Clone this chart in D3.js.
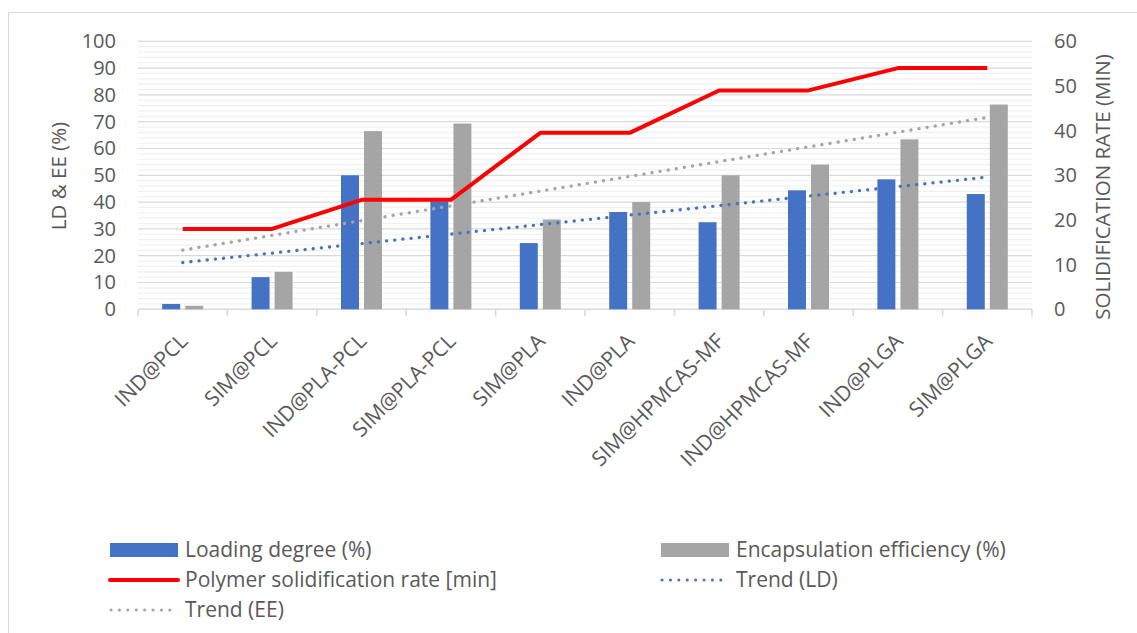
<!DOCTYPE html>
<html>
<head>
<meta charset="utf-8">
<script src="https://cdn.jsdelivr.net/npm/d3@7"></script>
<style>
  html, body { margin: 0; padding: 0; background: #fff; }
  svg { display: block; font-family: "Open Sans", sans-serif; }
  text { fill: #595959; }
</style>
</head>
<body>
<svg id="chart" width="1137" height="633"></svg>
<script>
// Formulations on the category axis
const categories = ["IND@PCL", "SIM@PCL", "IND@PLA-PCL", "SIM@PLA-PCL", "SIM@PLA",
  "IND@PLA", "SIM@HPMCAS-MF", "IND@HPMCAS-MF", "IND@PLGA", "SIM@PLGA"];
// Loading degree (%) – left axis
const loadingDegree = [2, 12, 50, 40.3, 24.7, 36.3, 32.5, 44.4, 48.5, 43];
// Encapsulation efficiency (%) – left axis
const encapsulation = [1.3, 14, 66.5, 69.3, 33.5, 40, 50, 54, 63.4, 76.4];
// Polymer solidification rate [min] – right axis
const solidification = [18, 18, 24.5, 24.5, 39.5, 39.5, 49, 49, 54, 54];
// Axis ticks
const leftTicks = [0, 10, 20, 30, 40, 50, 60, 70, 80, 90, 100];
const rightTicks = [0, 10, 20, 30, 40, 50, 60];
// Legend labels
const legendLabels = ["Loading degree (%)", "Encapsulation efficiency (%)",
  "Polymer solidification rate [min]", "Trend (LD)", "Trend (EE)"];

const BLUE = "#4472C4", GRAY = "#A5A5A5", RED = "#FF0000";

const svg = d3.select("#chart");
const plot = { left: 138, right: 1032, top: 41.3, bottom: 309.3 };

// Outer chart frame
svg.append("rect")
  .attr("x", 8.5).attr("y", 12.5)
  .attr("width", 1140).attr("height", 640)
  .attr("fill", "none").attr("stroke", "#d9d9d9");

const x = d3.scaleBand().domain(categories).range([plot.left, plot.right]);
const xSub = d3.scaleBand().domain(["ld", "ee"]).range([0, 41]).paddingInner(0.22);
const yL = d3.scaleLinear().domain([0, 100]).range([plot.bottom, plot.top]);
const yR = d3.scaleLinear().domain([0, 60]).range([plot.bottom, plot.top]);
const cx = c => x(c) + x.bandwidth() / 2;

// Minor gridlines (every 2) and major gridlines (every 10)
const grid = svg.append("g");
grid.selectAll("line.minor")
  .data(d3.range(0, 101, 2).filter(v => v % 10 !== 0))
  .join("line")
  .attr("x1", plot.left).attr("x2", plot.right)
  .attr("y1", d => yL(d)).attr("y2", d => yL(d))
  .attr("stroke", "#f0f0f0").attr("stroke-width", 1.2);
grid.selectAll("line.major")
  .data(leftTicks.filter(v => v > 0))
  .join("line")
  .attr("x1", plot.left).attr("x2", plot.right)
  .attr("y1", d => yL(d)).attr("y2", d => yL(d))
  .attr("stroke", "#d9d9d9").attr("stroke-width", 1.2);

// Category axis line with tick marks at category boundaries
const xAxisG = svg.append("g").attr("transform", `translate(0,${plot.bottom})`);
xAxisG.append("line")
  .attr("x1", plot.left).attr("x2", plot.right)
  .attr("stroke", "#d9d9d9").attr("stroke-width", 1.5);
xAxisG.selectAll("line.tick")
  .data(categories.concat([null]))
  .join("line")
  .attr("x1", (d, i) => plot.left + i * x.step())
  .attr("x2", (d, i) => plot.left + i * x.step())
  .attr("y1", 0).attr("y2", 7)
  .attr("stroke", "#d9d9d9").attr("stroke-width", 1.5);

// Rotated category labels
svg.append("g").selectAll("text")
  .data(categories)
  .join("text")
  .attr("transform", d => `translate(${cx(d) + 1},${plot.bottom + 28}) rotate(-45)`)
  .attr("text-anchor", "end")
  .attr("dy", "0.35em")
  .style("font-size", "21px")
  .text(d => d);

// Bars
const bars = svg.append("g");
bars.selectAll("rect.ld")
  .data(categories)
  .join("rect")
  .attr("x", d => cx(d) - 20.5 + xSub("ld"))
  .attr("width", xSub.bandwidth())
  .attr("y", (d, i) => yL(loadingDegree[i]))
  .attr("height", (d, i) => yL(0) - yL(loadingDegree[i]))
  .attr("fill", BLUE);
bars.selectAll("rect.ee")
  .data(categories)
  .join("rect")
  .attr("x", d => cx(d) - 20.5 + xSub("ee"))
  .attr("width", xSub.bandwidth())
  .attr("y", (d, i) => yL(encapsulation[i]))
  .attr("height", (d, i) => yL(0) - yL(encapsulation[i]))
  .attr("fill", GRAY);

// Least-squares linear trend through a series (x = category index)
function linearFit(values) {
  const n = values.length;
  const xs = d3.range(n);
  const mx = d3.mean(xs), my = d3.mean(values);
  const sxy = d3.sum(xs, (xi, i) => (xi - mx) * (values[i] - my));
  const sxx = d3.sum(xs, xi => (xi - mx) * (xi - mx));
  const slope = sxy / sxx;
  const intercept = my - slope * mx;
  return [0, n - 1].map(i => [i, intercept + slope * i]);
}
const idxX = i => cx(categories[i]);
const trendLine = d3.line().x(d => idxX(d[0])).y(d => yL(d[1]));

svg.append("path")
  .attr("d", trendLine(linearFit(encapsulation)))
  .attr("fill", "none").attr("stroke", GRAY)
  .attr("stroke-width", 3.3).attr("stroke-linecap", "round")
  .attr("stroke-dasharray", "0.1 8.1");
svg.append("path")
  .attr("d", trendLine(linearFit(loadingDegree)))
  .attr("fill", "none").attr("stroke", BLUE)
  .attr("stroke-width", 3.3).attr("stroke-linecap", "round")
  .attr("stroke-dasharray", "0.1 8.1");

// Solidification rate line on the right axis
const rateLine = d3.line().x((d, i) => idxX(i)).y(d => yR(d));
svg.append("path")
  .attr("d", rateLine(solidification))
  .attr("fill", "none").attr("stroke", RED)
  .attr("stroke-width", 4).attr("stroke-linejoin", "round");

// Left axis
const leftAxis = svg.append("g")
  .attr("transform", `translate(116,0)`)
  .call(d3.axisLeft(yL).tickValues(leftTicks).tickSize(0).tickPadding(0));
leftAxis.select(".domain").remove();
leftAxis.selectAll("text").style("font-size", "20px").attr("fill", "#595959")
  .style("font-family", "Open Sans, sans-serif");

// Right axis
const rightAxis = svg.append("g")
  .attr("transform", `translate(1054,0)`)
  .call(d3.axisRight(yR).tickValues(rightTicks).tickSize(0).tickPadding(0));
rightAxis.select(".domain").remove();
rightAxis.selectAll("text").style("font-size", "20px").attr("fill", "#595959")
  .style("font-family", "Open Sans, sans-serif");

// Axis titles
svg.append("text")
  .attr("transform", "translate(59,176) rotate(-90)")
  .attr("text-anchor", "middle").attr("dy", "0.35em")
  .style("font-size", "20.5px")
  .text("LD & EE (%)");
svg.append("text")
  .attr("transform", "translate(1103,187) rotate(-90)")
  .attr("text-anchor", "middle").attr("dy", "0.35em")
  .style("font-size", "20.5px")
  .text("SOLIDIFICATION RATE (MIN)");

// Legend
const legendItems = [
  { label: legendLabels[0], kind: "rect", color: BLUE, x: 110, y: 550 },
  { label: legendLabels[1], kind: "rect", color: GRAY, x: 661, y: 550 },
  { label: legendLabels[2], kind: "line", color: RED, x: 110, y: 580 },
  { label: legendLabels[3], kind: "dots", color: BLUE, x: 661, y: 580 },
  { label: legendLabels[4], kind: "dots", color: GRAY, x: 110, y: 610 }
];
const lg = svg.append("g").selectAll("g")
  .data(legendItems)
  .join("g")
  .attr("transform", d => `translate(${d.x},${d.y})`);
lg.filter(d => d.kind === "rect").append("rect")
  .attr("x", 0).attr("y", -7).attr("width", 68).attr("height", 14)
  .attr("fill", d => d.color);
lg.filter(d => d.kind === "line").append("line")
  .attr("x1", 0).attr("x2", 68)
  .attr("stroke", d => d.color).attr("stroke-width", 4).attr("stroke-linecap", "round");
lg.filter(d => d.kind === "dots").append("line")
  .attr("x1", 1).attr("x2", 68)
  .attr("stroke", d => d.color).attr("stroke-width", 3)
  .attr("stroke-linecap", "round").attr("stroke-dasharray", "0.1 8.3");
lg.append("text")
  .attr("x", 75).attr("dy", "0.35em")
  .style("font-size", "21px")
  .text(d => d.label);
</script>
</body>
</html>
